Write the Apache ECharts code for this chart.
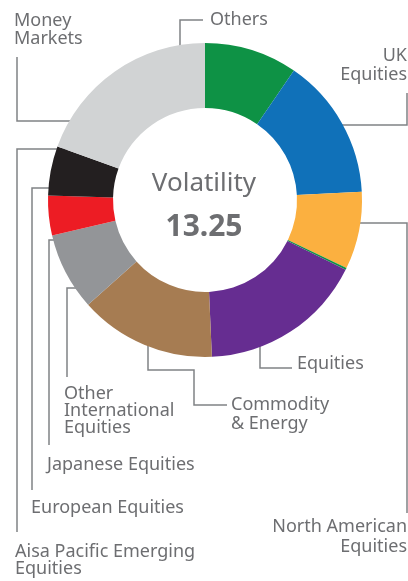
<!DOCTYPE html>
<html lang="en">
<head>
    <meta charset="UTF-8">
    <title>Volatility</title>
    <script src="https://cdn.jsdelivr.net/npm/echarts@6/dist/echarts.min.js"></script>
    <style>
        html, body { margin: 0; padding: 0; background: #fff; }
        #chart { width: 408px; height: 581px; }
    </style>
</head>
<body>
<div id="chart"></div>
<script>
    // slices, clockwise from 12 o'clock (share of portfolio, %)
    var names = ['Others', 'UK Equities', 'North American Equities', 'Aisa Pacific Emerging Equities',
        'Equities', 'Commodity & Energy', 'Other International Equities', 'Japanese Equities',
        'European Equities', 'Money Markets'];
    var values = [9.6, 14.6, 8.0, 0.2, 17.0, 14.1, 8.0, 4.1, 5.1, 19.5];
    var labelText = ['Others', 'UK\nEquities', 'North American\nEquities', 'Aisa Pacific Emerging\nEquities',
        'Equities', 'Commodity\n& Energy', 'Other\nInternational\nEquities', 'Japanese Equities',
        'European Equities', 'Money\nMarkets'];
    var volatility = '13.25';

    var colors = ['#0e9245', '#1071b9', '#fbb040', '#0e9245', '#662d91',
        '#a67c52', '#939598', '#ed1c24', '#231f20', '#d1d3d4'];

    // where each label sits and how its leader line bends
    var spots = [
        { x: 210, y: 20, align: 'left', lh: 18, pts: [[180, 77], [180, 20], [203, 20]] },
        { x: 407, y: 65, align: 'right', lh: 19, pts: [[316, 125], [407, 125], [407, 93]] },
        { x: 407, y: 537, align: 'right', lh: 20, pts: [[336, 223], [407, 223], [407, 513]] },
        { x: 15, y: 560, align: 'left', lh: 17, pts: [[77, 149], [17, 149], [17, 532]] },
        { x: 297, y: 364, align: 'left', lh: 18, pts: [[260, 320], [260, 368], [292, 368]] },
        { x: 231, y: 414, align: 'left', lh: 19, pts: [[148, 316], [148, 370], [194, 370], [194, 405], [227, 405]] },
        { x: 64, y: 411, align: 'left', lh: 17, pts: [[97, 288], [67, 288], [67, 377]] },
        { x: 47, y: 465, align: 'left', lh: 18, pts: [[74, 240], [49, 240], [49, 445]] },
        { x: 31, y: 508, align: 'left', lh: 18, pts: [[70, 188], [32, 188], [32, 490]] },
        { x: 14, y: 30, align: 'left', lh: 18.5, pts: [[84, 121], [17, 121], [17, 57]] }
    ];

    var pieData = names.map(function (n, i) {
        return {
            name: n,
            value: values[i],
            itemStyle: { color: colors[i] },
            label: { lineHeight: spots[i].lh }
        };
    });

    var textColor = '#6d6e71';
    var option = {
        animation: false,
        title: [{
            text: 'Volatility',
            left: 'center',
            top: 169,
            padding: 0,
            textStyle: { fontFamily: 'Noto Sans', fontSize: 26, fontWeight: 'normal', color: textColor, lineHeight: 30 }
        }, {
            text: volatility,
            left: 'center',
            top: 210,
            padding: 0,
            textStyle: { fontFamily: 'Noto Sans', fontSize: 30, fontWeight: 'bold', color: textColor, lineHeight: 34 }
        }],
        series: [{
            type: 'pie',
            center: [205, 200],
            radius: [92, 157],
            startAngle: 90,
            clockwise: true,
            silent: true,
            avoidLabelOverlap: false,
            label: {
                show: true,
                position: 'outside',
                fontFamily: 'Noto Sans',
                fontSize: 18,
                color: textColor,
                formatter: function (p) { return labelText[p.dataIndex]; }
            },
            labelLine: {
                show: true,
                lineStyle: { color: '#808285', width: 1.5 }
            },
            labelLayout: function (params) {
                var s = spots[params.dataIndex];
                return {
                    x: s.x,
                    y: s.y,
                    align: s.align,
                    verticalAlign: 'middle',
                    labelLinePoints: s.pts
                };
            },
            data: pieData
        }]
    };

    var myChart = echarts.init(document.getElementById('chart'));
    myChart.setOption(option);
</script>
</body>
</html>
